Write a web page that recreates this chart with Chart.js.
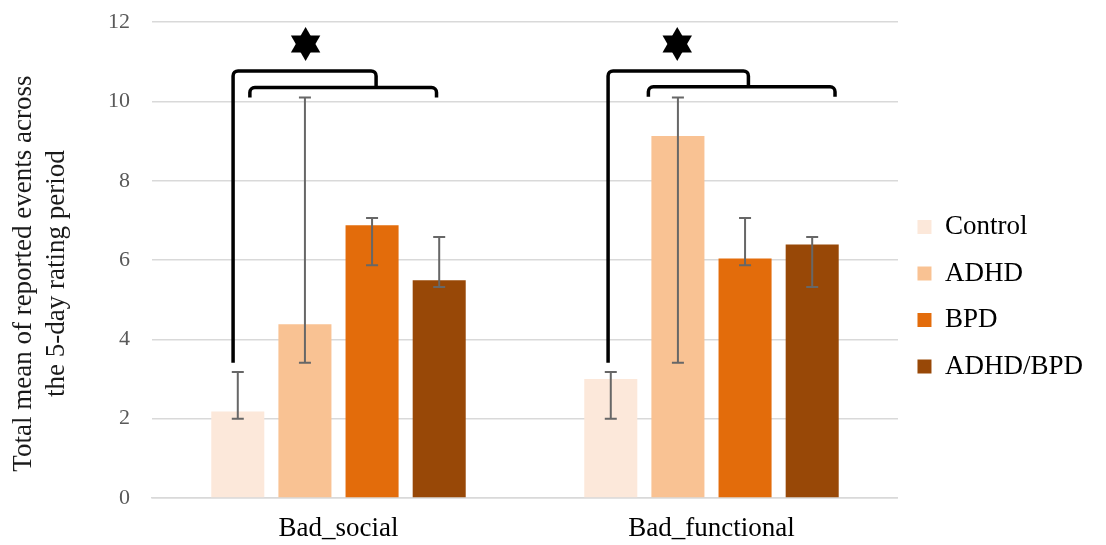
<!DOCTYPE html>
<html>
<head>
<meta charset="utf-8">
<script src="https://cdn.jsdelivr.net/npm/chart.js@4/dist/chart.umd.min.js"></script>
<style>
  html, body { margin: 0; padding: 0; background: #fff; }
  #wrap { width: 1106px; height: 545px; }
</style>
</head>
<body>
<div id="wrap"><canvas id="result"></canvas></div>
<script>
const categories = ['Bad_social', 'Bad_functional'];
const groupNames = ['Control', 'ADHD', 'BPD', 'ADHD/BPD'];
const groupColors = ['#FCE8DA', '#F9C293', '#E36C0B', '#984807'];

// means per group, one value per category
const controlMeans = [2.18, 3.0];
const adhdMeans = [4.38, 9.13];
const bpdMeans = [6.88, 6.04];
const comboMeans = [5.49, 6.39];

// error bar ends (lower, upper) per group
const errLow = [[2.0, 2.0], [3.41, 3.41], [5.87, 5.87], [5.32, 5.32]];
const errHigh = [[3.18, 3.18], [10.1, 10.1], [7.06, 7.06], [6.58, 6.58]];

// significance brackets, x in bar-slot units from category centre, y in data units
const outerLeft = [-1.57, -1.54];
const outerRight = [0.56, 0.55];
const innerLeft = [-1.32, -0.94];
const innerRight = [1.46, 1.84];
const outerTop = [10.77, 10.77];
const outerBottom = [3.41, 3.41];
const innerTop = [10.35, 10.37];
const innerLeg = [10.1, 10.12];
const starX = [-0.49, -0.51];
const starY = [11.45, 11.45];

const catPct = 0.72;
const serif = "'Liberation Serif', 'Times New Roman', serif";

const annotations = {
    id: 'annotations',
    afterDatasetsDraw(chart) {
        const ctx = chart.ctx;
        const x = chart.scales.x, y = chart.scales.y;

        // error bars
        ctx.save();
        ctx.strokeStyle = '#676767';
        ctx.lineWidth = 2;
        chart.data.datasets.forEach((ds, i) => {
            chart.getDatasetMeta(i).data.forEach((bar, j) => {
                const lo = y.getPixelForValue(errLow[i][j]);
                const hi = y.getPixelForValue(errHigh[i][j]);
                ctx.beginPath();
                ctx.moveTo(bar.x, lo); ctx.lineTo(bar.x, hi);
                ctx.moveTo(bar.x - 6, lo); ctx.lineTo(bar.x + 6, lo);
                ctx.moveTo(bar.x - 6, hi); ctx.lineTo(bar.x + 6, hi);
                ctx.stroke();
            });
        });
        ctx.restore();

        // brackets and stars
        const slot = (x.getPixelForValue(1) - x.getPixelForValue(0)) * catPct / 4;
        ctx.save();
        ctx.strokeStyle = '#000';
        ctx.fillStyle = '#000';
        ctx.lineWidth = 3.5;
        ctx.lineJoin = 'round';
        ctx.lineCap = 'butt';
        categories.forEach((c, j) => {
            const cx = x.getPixelForValue(j);
            const ol = cx + outerLeft[j] * slot, or = cx + outerRight[j] * slot;
            const il = cx + innerLeft[j] * slot, ir = cx + innerRight[j] * slot;
            const ot = y.getPixelForValue(outerTop[j]);
            const ob = y.getPixelForValue(outerBottom[j]);
            const it = y.getPixelForValue(innerTop[j]);
            const ileg = y.getPixelForValue(innerLeg[j]);
            const r = 5;
            ctx.beginPath();
            ctx.moveTo(ol, ob);
            ctx.arcTo(ol, ot, or, ot, r);
            ctx.arcTo(or, ot, or, it, r);
            ctx.lineTo(or, it);
            ctx.stroke();
            ctx.beginPath();
            ctx.moveTo(il, ileg);
            ctx.arcTo(il, it, ir, it, r);
            ctx.arcTo(ir, it, ir, ileg, r);
            ctx.lineTo(ir, ileg);
            ctx.stroke();

            // six-pointed star
            const sx = cx + starX[j] * slot, sy = y.getPixelForValue(starY[j]);
            const R = 17;
            [0, Math.PI].forEach(off => {
                ctx.beginPath();
                for (let k = 0; k < 3; k++) {
                    const a = -Math.PI / 2 + off + k * 2 * Math.PI / 3;
                    const px = sx + R * Math.cos(a), py = sy + R * Math.sin(a);
                    if (k === 0) ctx.moveTo(px, py); else ctx.lineTo(px, py);
                }
                ctx.closePath();
                ctx.fill();
            });
        });
        ctx.restore();
    }
};

const seriesValues = [controlMeans, adhdMeans, bpdMeans, comboMeans];

new Chart(document.getElementById('result').getContext('2d'), {
    type: 'bar',
    data: {
        labels: categories,
        datasets: groupNames.map((name, i) => ({
            label: name,
            data: seriesValues[i],
            backgroundColor: groupColors[i],
            borderWidth: 0,
            categoryPercentage: catPct,
            barPercentage: 0.79
        }))
    },
    options: {
        responsive: true,
        maintainAspectRatio: false,
        animation: false,
        layout: { padding: { top: 9, right: 13, bottom: 0, left: 0 } },
        plugins: {
            legend: {
                position: 'right',
                align: 'center',
                title: { display: true, text: '', font: { size: 10, lineHeight: 1.2 }, padding: { top: 0, bottom: 27.5 } },
                labels: {
                    boxWidth: 14,
                    boxHeight: 14,
                    padding: 19.5,
                    color: '#000',
                    font: { family: serif, size: 27 }
                }
            },
            tooltip: { enabled: false }
        },
        scales: {
            x: {
                grid: { display: false, drawTicks: false },
                border: { display: true, color: '#D9D9D9', width: 1.5 },
                ticks: { color: '#000', padding: 15, font: { family: serif, size: 27 } },
                afterFit: (scale) => { scale.height = 47; }
            },
            y: {
                min: 0,
                max: 12,
                // tiny lineHeight keeps the top padding at the tick padding only
                ticks: { stepSize: 2, color: '#595959', padding: 22, font: { family: serif, size: 22, lineHeight: 0.01 } },
                grid: { color: '#D9D9D9', lineWidth: 1.5, drawTicks: false },
                border: { display: false },
                title: {
                    display: true,
                    text: ['Total mean of reported events across    ', 'the 5-day rating period    '],
                    color: '#1a1a1a',
                    font: { family: serif, size: 27, lineHeight: 1.2 },
                    padding: { top: 8, bottom: 0 }
                },
                afterFit: (scale) => { scale.width = 152; }
            }
        }
    },
    plugins: [annotations]
});
</script>
</body>
</html>
